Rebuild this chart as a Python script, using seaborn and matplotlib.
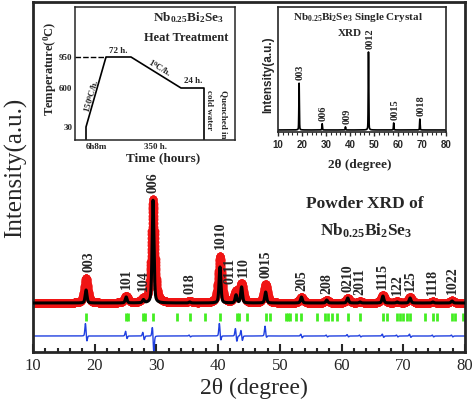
"""Nb0.25Bi2Se3: powder XRD refinement with heat-treatment and single-crystal insets."""

import matplotlib

matplotlib.use("Agg")

import matplotlib.pyplot as plt
import numpy as np
import seaborn as sns
from matplotlib.ticker import MultipleLocator, NullLocator

W, H = 474, 403

# powder pattern, arbitrary units (baseline = 0)
PEAK_HKL = ["003", "101", "104", "006", "018", "1010", "0111", "110", "0015",
            "205", "208", "0210", "2011", "1115", "122", "125", "1118", "1022"]
PEAK_POS = [18.6, 25.1, 27.9, 29.45, 35.4, 40.3, 42.9, 43.8, 47.7,
            53.5, 57.6, 61.0, 63.0, 66.7, 69.0, 71.1, 74.8, 77.9]
OBS_HEIGHT = [25, 7, 3, 104, 2, 47, 11, 19, 19, 6, 3, 5, 1.5, 8, 1.5, 6, 1.5, 2.5]
CALC_HEIGHT = [13, 6, 3, 103, 1, 36, 8, 16, 11, 6, 3, 5, 1, 7, 1, 5, 1, 2]
DIFF_UP = [13, 5, 4, 10, 1, 13, 8, 6, 10, 2, 1, 1.5, 1, 2, 1, 2, 1, 1]
DIFF_DOWN = [6, 3, 4, 17, 1, 5, 6, 5, 2, 2, 1, 1, 1, 1.5, 1, 1.5, 1, 1]
BRAGG_POS = [18.6, 25.1, 25.4, 27.9, 28.1, 29.45, 33.3, 35.4, 37.8, 40.3,
             43.0, 43.4, 44.7, 47.8, 48.4, 51.0, 51.3, 51.7, 52.6, 53.4,
             56.0, 57.3, 57.8, 58.4, 59.2, 61.0, 63.0, 66.7, 67.3, 69.0,
             69.5, 69.9, 70.6, 71.1, 73.5, 74.8, 75.4, 77.9, 78.4, 79.7]
BRAGG_LEVEL = -13.5
DIFF_LEVEL = -33
LABEL_NUDGE = {"003": 0.5, "0111": -1.0, "110": 0.3}

# single crystal pattern (00l reflections)
SC_HKL = ["003", "006", "009", "0012", "0015", "0018"]
SC_POS = [18.8, 28.4, 38.1, 47.7, 58.2, 69.1]
SC_HEIGHT = [60, 8, 4, 100, 9, 14]

# heat treatment profile
HEAT_TIME = [0, 0, 6.13, 78.13, 428.13, 452.13, 452.13]
HEAT_TEMP = [0, 30, 950, 950, 600, 600, 0]
TEMP_TICKS = [30, 600, 950]
TIME_TICKS = [3.07, 253.13]
TIME_TICK_LABELS = ["6h8m", "350 h."]

# schematic (non-linear) axis mapping of the heat treatment sketch
TIME_KNOTS = [-10, 0, 6.13, 78.13, 428.13, 452.13, 500]
TIME_PX = [0, 11, 31, 56, 106, 129, 160]
TEMP_KNOTS = [0, 30, 600, 950, 1500]
TEMP_PX = [0, 13, 52, 83, 133]

RED = "#f01414"
BLUE = "#2040e0"
GREEN = "#44ee22"


def pseudo_voigt(x, pos, fwhm, eta):
    d = (x - pos) / fwhm
    return eta / (1 + 4 * d**2) + (1 - eta) * np.exp(-4 * np.log(2) * d**2)


def pattern(x, positions, heights, fwhm, eta):
    y = np.zeros_like(x)
    for p, h in zip(positions, heights):
        y += h * pseudo_voigt(x, p, fwhm, eta)
    return y


def fig_xy(px, py):
    return px / W, 1 - py / H


sns.set_style("ticks")
plt.rcParams["font.family"] = ["Liberation Serif", "DejaVu Serif"]
plt.rcParams["mathtext.fontset"] = "custom"
plt.rcParams["mathtext.rm"] = "Liberation Serif"
plt.rcParams["mathtext.it"] = "Liberation Serif:italic"
plt.rcParams["mathtext.bf"] = "Liberation Serif:bold"

fig = plt.figure(figsize=(W / 100, H / 100), dpi=100)

# ---- main powder refinement ----
ax = fig.add_axes([33 / W, 1 - 352 / H, 432 / W, 350 / H])
x = np.arange(10, 80.001, 0.02)
pos = np.array(PEAK_POS)
obs = pattern(x, pos, OBS_HEIGHT, 0.72, 0.5)
calc = pattern(x, pos, CALC_HEIGHT, 0.35, 0.4)
diff = (DIFF_LEVEL + pattern(x, pos - 0.1, DIFF_UP, 0.22, 0.3)
        - pattern(x, pos + 0.12, DIFF_DOWN, 0.22, 0.3))

sns.scatterplot(x=x, y=obs, ax=ax, color=RED, s=32, linewidth=0, zorder=2)
sns.lineplot(x=x, y=calc, ax=ax, color="black", lw=2.2, zorder=3,
             estimator=None, sort=False)
ax.plot(BRAGG_POS, np.full(len(BRAGG_POS), BRAGG_LEVEL), ls="none",
        marker="|", ms=5.5, mew=2, color=GREEN)
sns.lineplot(x=x, y=diff, ax=ax, color=BLUE, lw=1.0, estimator=None, sort=False)

for hkl, p in zip(PEAK_HKL, PEAK_POS):
    top = obs[np.abs(x - p) < 0.3].max()
    ax.annotate(hkl, (p + LABEL_NUDGE.get(hkl, 0), top), xytext=(0, 4.5),
                textcoords="offset points", rotation=90, ha="center", va="bottom",
                fontsize=10, fontweight="bold")

ax.set_xlim(10, 80)
ax.set_ylim(-49, 301)
ax.set_xticks(range(10, 81, 10))
ax.xaxis.set_minor_locator(MultipleLocator(2))
ax.set_yticks([])
ax.tick_params(axis="x", which="major", direction="in", length=6, width=1.5,
               labelsize=12, pad=4, top=False)
ax.tick_params(axis="x", which="minor", direction="in", length=3, width=1.5, top=False)
for s in ax.spines.values():
    s.set_linewidth(2)
ax.set_xlabel("")
ax.set_ylabel("")
fig.text(*fig_xy(254, 388), "2θ (degree)", fontsize=17, ha="center", va="center")
fig.text(*fig_xy(16, 168), "Intensity(a.u.)", fontsize=18, rotation=90,
         ha="center", va="center")
fig.text(*fig_xy(365, 204), "Powder XRD of", fontsize=12.5, fontweight="bold",
         ha="center", va="center")
fig.text(*fig_xy(366, 231), r"$\mathbf{Nb_{0.25}Bi_{2}Se_{3}}$", fontsize=12.5,
         ha="center", va="center")

# ---- heat treatment inset ----
hx = fig.add_axes([75 / W, 1 - 140 / H, 160 / W, 133 / H])
hx.set_xscale("function", functions=(lambda t: np.interp(t, TIME_KNOTS, TIME_PX),
                                     lambda p: np.interp(p, TIME_PX, TIME_KNOTS)))
hx.set_yscale("function", functions=(lambda t: np.interp(t, TEMP_KNOTS, TEMP_PX),
                                     lambda p: np.interp(p, TEMP_PX, TEMP_KNOTS)))
sns.lineplot(x=HEAT_TIME, y=HEAT_TEMP, ax=hx, color="black", lw=1.2,
             estimator=None, sort=False)
hx.hlines(HEAT_TEMP[2], TIME_KNOTS[0], HEAT_TIME[2], color="black", lw=1.0,
          linestyles=(0, (4, 1.5)))
hx.set_xlim(TIME_KNOTS[0], TIME_KNOTS[-1])
hx.set_ylim(TEMP_KNOTS[0], TEMP_KNOTS[-1])
hx.set_yticks(TEMP_TICKS)
hx.set_yticklabels([str(t) for t in TEMP_TICKS], fontweight="bold", fontsize=6.5)
hx.set_xticks(TIME_TICKS)
hx.set_xticklabels(TIME_TICK_LABELS, fontweight="bold", fontsize=6.5)
hx.xaxis.set_minor_locator(NullLocator())
hx.yaxis.set_minor_locator(NullLocator())
hx.tick_params(length=0, pad=2)
hx.set_xlabel("")
hx.set_ylabel("")
for s in hx.spines.values():
    s.set_linewidth(1.1)

small = dict(fontsize=6.5, fontweight="bold", ha="center", va="center")
fig.text(*fig_xy(118, 51), "72 h.", **small)
fig.text(*fig_xy(160, 68), r"$\mathbf{1^{0}C/h.}$", rotation=-31, **small)
fig.text(*fig_xy(193, 81), "24 h.", **small)
fig.text(*fig_xy(92, 96), r"$\mathbf{150^{0}C/h.}$", rotation=74, **small)
fig.text(*fig_xy(209, 110), "cold water", rotation=270, **small)
fig.text(*fig_xy(224, 114), "Quenched in", rotation=270, **small)
fig.text(*fig_xy(188, 18), r"$\mathbf{Nb_{0.25}Bi_{2}Se_{3}}$", fontsize=9.5,
         ha="center", va="center")
fig.text(*fig_xy(186, 38), "Heat Treatment", fontsize=9, fontweight="bold",
         ha="center", va="center")
fig.text(*fig_xy(50, 69), r"$\mathbf{Temperature(^{0}C)}$", fontsize=9,
         rotation=90, ha="center", va="center")
fig.text(*fig_xy(163, 158), "Time (hours)", fontsize=9.5, fontweight="bold",
         ha="center", va="center")

# ---- single crystal inset ----
sx = fig.add_axes([278 / W, 1 - 132 / H, 168 / W, 125 / H])
xs = np.arange(10, 80.001, 0.02)
sc = pattern(xs, SC_POS, SC_HEIGHT, 0.25, 0.3)
sns.lineplot(x=xs, y=sc, ax=sx, color="black", lw=1.2, estimator=None, sort=False)
for hkl, p, h in zip(SC_HKL, SC_POS, SC_HEIGHT):
    sx.annotate(hkl, (p, h), xytext=(1, 2), textcoords="offset points", rotation=90,
                ha="center", va="bottom", fontsize=7.5, fontweight="bold")
sx.set_xlim(10, 80)
sx.set_ylim(-2.6, 157.7)
sx.set_xticks(range(10, 81, 10))
sx.xaxis.set_minor_locator(MultipleLocator(2))
sx.set_yticks([])
sx.tick_params(axis="x", which="major", direction="out", length=3, width=1, pad=3)
sx.tick_params(axis="x", which="minor", direction="out", length=2, width=0.8)
for lbl in sx.get_xticklabels():
    lbl.set_fontfamily("Liberation Sans")
    lbl.set_fontweight("bold")
    lbl.set_fontsize(7)
sx.set_xlabel("")
sx.set_ylabel("")
for s in sx.spines.values():
    s.set_linewidth(1.2)

fig.text(*fig_xy(358, 17), r"$\mathbf{Nb_{0.25}Bi_{2}Se_{3}}$ Single Crystal",
         fontsize=8, fontweight="bold", ha="center", va="center")
fig.text(*fig_xy(350, 33), "XRD", fontsize=8, fontweight="bold",
         ha="center", va="center")
fig.text(*fig_xy(360, 165), "2θ (degree)", fontsize=9.5, fontweight="bold",
         ha="center", va="center")
fig.text(*fig_xy(268, 75), "Intensity(a.u.)", fontsize=8.5, fontweight="bold",
         family="Liberation Sans", rotation=90, ha="center", va="center")

fig.savefig("out.png", dpi=100)
